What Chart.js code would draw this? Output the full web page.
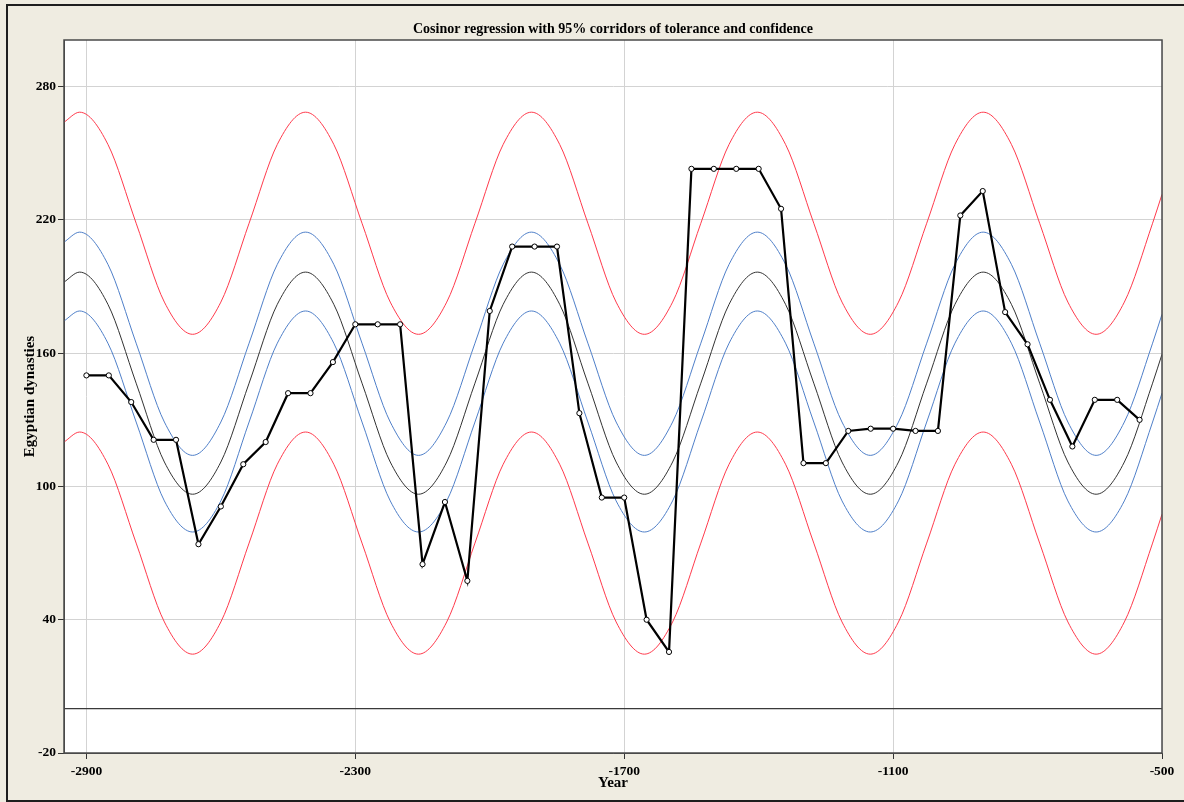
<!DOCTYPE html>
<html>
<head>
<meta charset="utf-8">
<script src="https://cdn.jsdelivr.net/npm/chart.js@4.4.1/dist/chart.umd.min.js"></script>
<style>
  html, body { margin: 0; padding: 0; background: #efece1; overflow: hidden; }
  #frame {
    position: absolute; left: 6px; top: 4px;
    width: 1300px; height: 794px;
    border: 2px solid #1e1e1e;
  }
  #wrap { position: absolute; left: 0; top: 0; width: 1184px; height: 802px; }
</style>
</head>
<body>
<div id="frame"></div>
<div id="wrap"><canvas id="cosinorChart" width="1184" height="802"></canvas></div>
<script>
// observed dynasty values, one every 50 years
const obsYears = [
  -2900, -2850, -2800, -2750, -2700, -2650, -2600, -2550, -2500, -2450,
  -2400, -2350, -2300, -2250, -2200, -2150, -2100, -2050, -2000, -1950,
  -1900, -1850, -1800, -1750, -1700, -1650, -1600, -1550, -1500, -1450,
  -1400, -1350, -1300, -1250, -1200, -1150, -1100, -1050, -1000, -950,
  -900, -850, -800, -750, -700, -650, -600, -550
];
const obsValues = [
  150, 150, 138, 121, 121, 74, 91, 110, 120, 142,
  142, 156, 173, 173, 173, 65, 93, 57.5, 179, 208,
  208, 208, 133, 95, 95, 40, 25.5, 243, 243, 243,
  243, 225, 110.5, 110.5, 125, 126, 126, 125, 125, 222,
  233, 178.5, 164, 139, 118, 139, 139, 130
];

const fitYears = [
  -2950, -2915, -2852, -2789, -2726, -2663, -2600, -2537, -2474,
  -2411, -2348, -2285, -2222, -2159, -2096, -2033, -1970,
  -1907, -1844, -1781, -1718, -1655, -1592, -1529, -1466,
  -1403, -1340, -1277, -1214, -1151, -1088, -1025, -962,
  -899, -836, -773, -710, -647, -584, -521, -500
];
const fitMean = [
  192, 196.5, 182, 146.5, 111, 96.5, 111, 146.5, 182,
  196.5, 182, 146.5, 111, 96.5, 111, 146.5, 182,
  196.5, 182, 146.5, 111, 96.5, 111, 146.5, 182,
  196.5, 182, 146.5, 111, 96.5, 111, 146.5, 182,
  196.5, 182, 146.5, 111, 96.5, 111, 146.5, 159.5
];
const confUpper = [
  210, 214.5, 200, 164.5, 129, 114, 129, 164.5, 200,
  214.5, 200, 164.5, 129, 114, 129, 164.5, 200,
  214.5, 200, 164.5, 129, 114, 129, 164.5, 200,
  214.5, 200, 164.5, 129, 114, 129, 164.5, 200,
  214.5, 200, 164.5, 129, 114, 129, 164.5, 177.5
];
const confLower = [
  174.5, 179, 164.5, 129, 93.5, 79.5, 93.5, 129, 164.5,
  179, 164.5, 129, 93.5, 79.5, 93.5, 129, 164.5,
  179, 164.5, 129, 93.5, 79.5, 93.5, 129, 164.5,
  179, 164.5, 129, 93.5, 79.5, 93.5, 129, 164.5,
  179, 164.5, 129, 93.5, 79.5, 93.5, 129, 142
];
const tolUpper = [
  264, 268.5, 254, 218.5, 183, 168.5, 183, 218.5, 254,
  268.5, 254, 218.5, 183, 168.5, 183, 218.5, 254,
  268.5, 254, 218.5, 183, 168.5, 183, 218.5, 254,
  268.5, 254, 218.5, 183, 168.5, 183, 218.5, 254,
  268.5, 254, 218.5, 183, 168.5, 183, 218.5, 231.5
];
const tolLower = [
  120, 124.5, 110, 74.5, 39, 24.5, 39, 74.5, 110,
  124.5, 110, 74.5, 39, 24.5, 39, 74.5, 110,
  124.5, 110, 74.5, 39, 24.5, 39, 74.5, 110,
  124.5, 110, 74.5, 39, 24.5, 39, 74.5, 110,
  124.5, 110, 74.5, 39, 24.5, 39, 74.5, 87.5
];

const zeroLineYears = [-2950, -500];
const zeroLineValues = [0, 0];

const xTicks = [-2900, -2300, -1700, -1100, -500];
const yTicks = [-20, 40, 100, 160, 220, 280];

const SERIF = "'Liberation Serif', 'Times New Roman', serif";

function pairs(xs, ys) {
  return xs.map((x, i) => ({ x, y: ys[i] }));
}

function curve(label, ys, color, order) {
  return {
    label,
    data: pairs(fitYears, ys),
    borderColor: color,
    borderWidth: 1,
    pointRadius: 0,
    cubicInterpolationMode: 'monotone',
    order,
  };
}

// white plot area + dark frame round it
const plotFrame = {
  id: 'plotFrame',
  beforeDraw(chart) {
    const { ctx, chartArea: a } = chart;
    ctx.save();
    ctx.fillStyle = '#ffffff';
    ctx.fillRect(a.left, a.top, a.right - a.left, a.bottom - a.top);
    ctx.restore();
  },
  afterDraw(chart) {
    const { ctx, chartArea: a } = chart;
    ctx.save();
    ctx.strokeStyle = '#4a4a4a';
    ctx.lineWidth = 1.5;
    ctx.strokeRect(a.left, a.top, a.right - a.left, a.bottom - a.top);
    ctx.restore();
  }
};

new Chart(document.getElementById('cosinorChart').getContext('2d'), {
  type: 'line',
  data: {
    datasets: [
      {
        label: 'Egyptian dynasties',
        data: pairs(obsYears, obsValues),
        borderColor: '#000000',
        borderWidth: 2.2,
        pointRadius: 2.6,
        pointBackgroundColor: '#ffffff',
        pointBorderColor: '#000000',
        pointBorderWidth: 1,
        tension: 0,
        order: 0,
      },
      curve('Fit', fitMean, '#333333', 1),
      curve('Confidence upper', confUpper, '#4f7fc9', 2),
      curve('Confidence lower', confLower, '#4f7fc9', 2),
      curve('Tolerance upper', tolUpper, '#ff3a4c', 3),
      curve('Tolerance lower', tolLower, '#ff3a4c', 3),
      {
        label: 'zero',
        data: pairs(zeroLineYears, zeroLineValues),
        borderColor: '#3a3a3a',
        borderWidth: 1.4,
        pointRadius: 0,
        order: 4,
      }
    ]
  },
  options: {
    responsive: false,
    animation: false,
    devicePixelRatio: 1,
    layout: { padding: { left: 0, top: 21.2, right: 22, bottom: 0 } },
    plugins: {
      legend: { display: false },
      tooltip: { enabled: false },
      title: {
        display: true,
        fullSize: false,
        text: 'Cosinor regression with 95% corridors of tolerance and confidence',
        color: '#000000',
        font: { family: SERIF, size: 14, weight: 'bold' },
        padding: { top: 0, bottom: 2 },
      }
    },
    scales: {
      x: {
        type: 'linear',
        min: -2950,
        max: -500,
        afterBuildTicks: s => { s.ticks = xTicks.map(v => ({ value: v })); },
        afterFit: s => { s.height = 49; },
        grid: { color: '#d3d3d3', tickColor: '#333333', tickLength: 6, lineWidth: 1 },
        border: { color: '#4a4a4a' },
        ticks: {
          color: '#000000',
          padding: 4,
          maxRotation: 0,
          callback: v => String(v),
          font: { family: SERIF, size: 13.5, weight: 'bold' },
        },
        title: {
          display: true,
          text: 'Year',
          color: '#000000',
          font: { family: SERIF, size: 15, weight: 'bold' },
          padding: { top: 0, bottom: 10 },
        }
      },
      y: {
        min: -20,
        max: 301,
        afterBuildTicks: s => { s.ticks = yTicks.map(v => ({ value: v })); },
        afterFit: s => { s.width = 64; },
        grid: { color: '#d3d3d3', tickColor: '#333333', tickLength: 6, lineWidth: 1 },
        border: { color: '#4a4a4a' },
        ticks: {
          color: '#000000',
          padding: 2,
          callback: v => String(v),
          font: { family: SERIF, size: 13.5, weight: 'bold' },
        },
        title: {
          display: true,
          text: 'Egyptian dynasties',
          color: '#000000',
          font: { family: SERIF, size: 15, weight: 'bold' },
          padding: { top: 21, bottom: 0 },
        }
      }
    }
  },
  plugins: [plotFrame]
});
</script>
</body>
</html>
